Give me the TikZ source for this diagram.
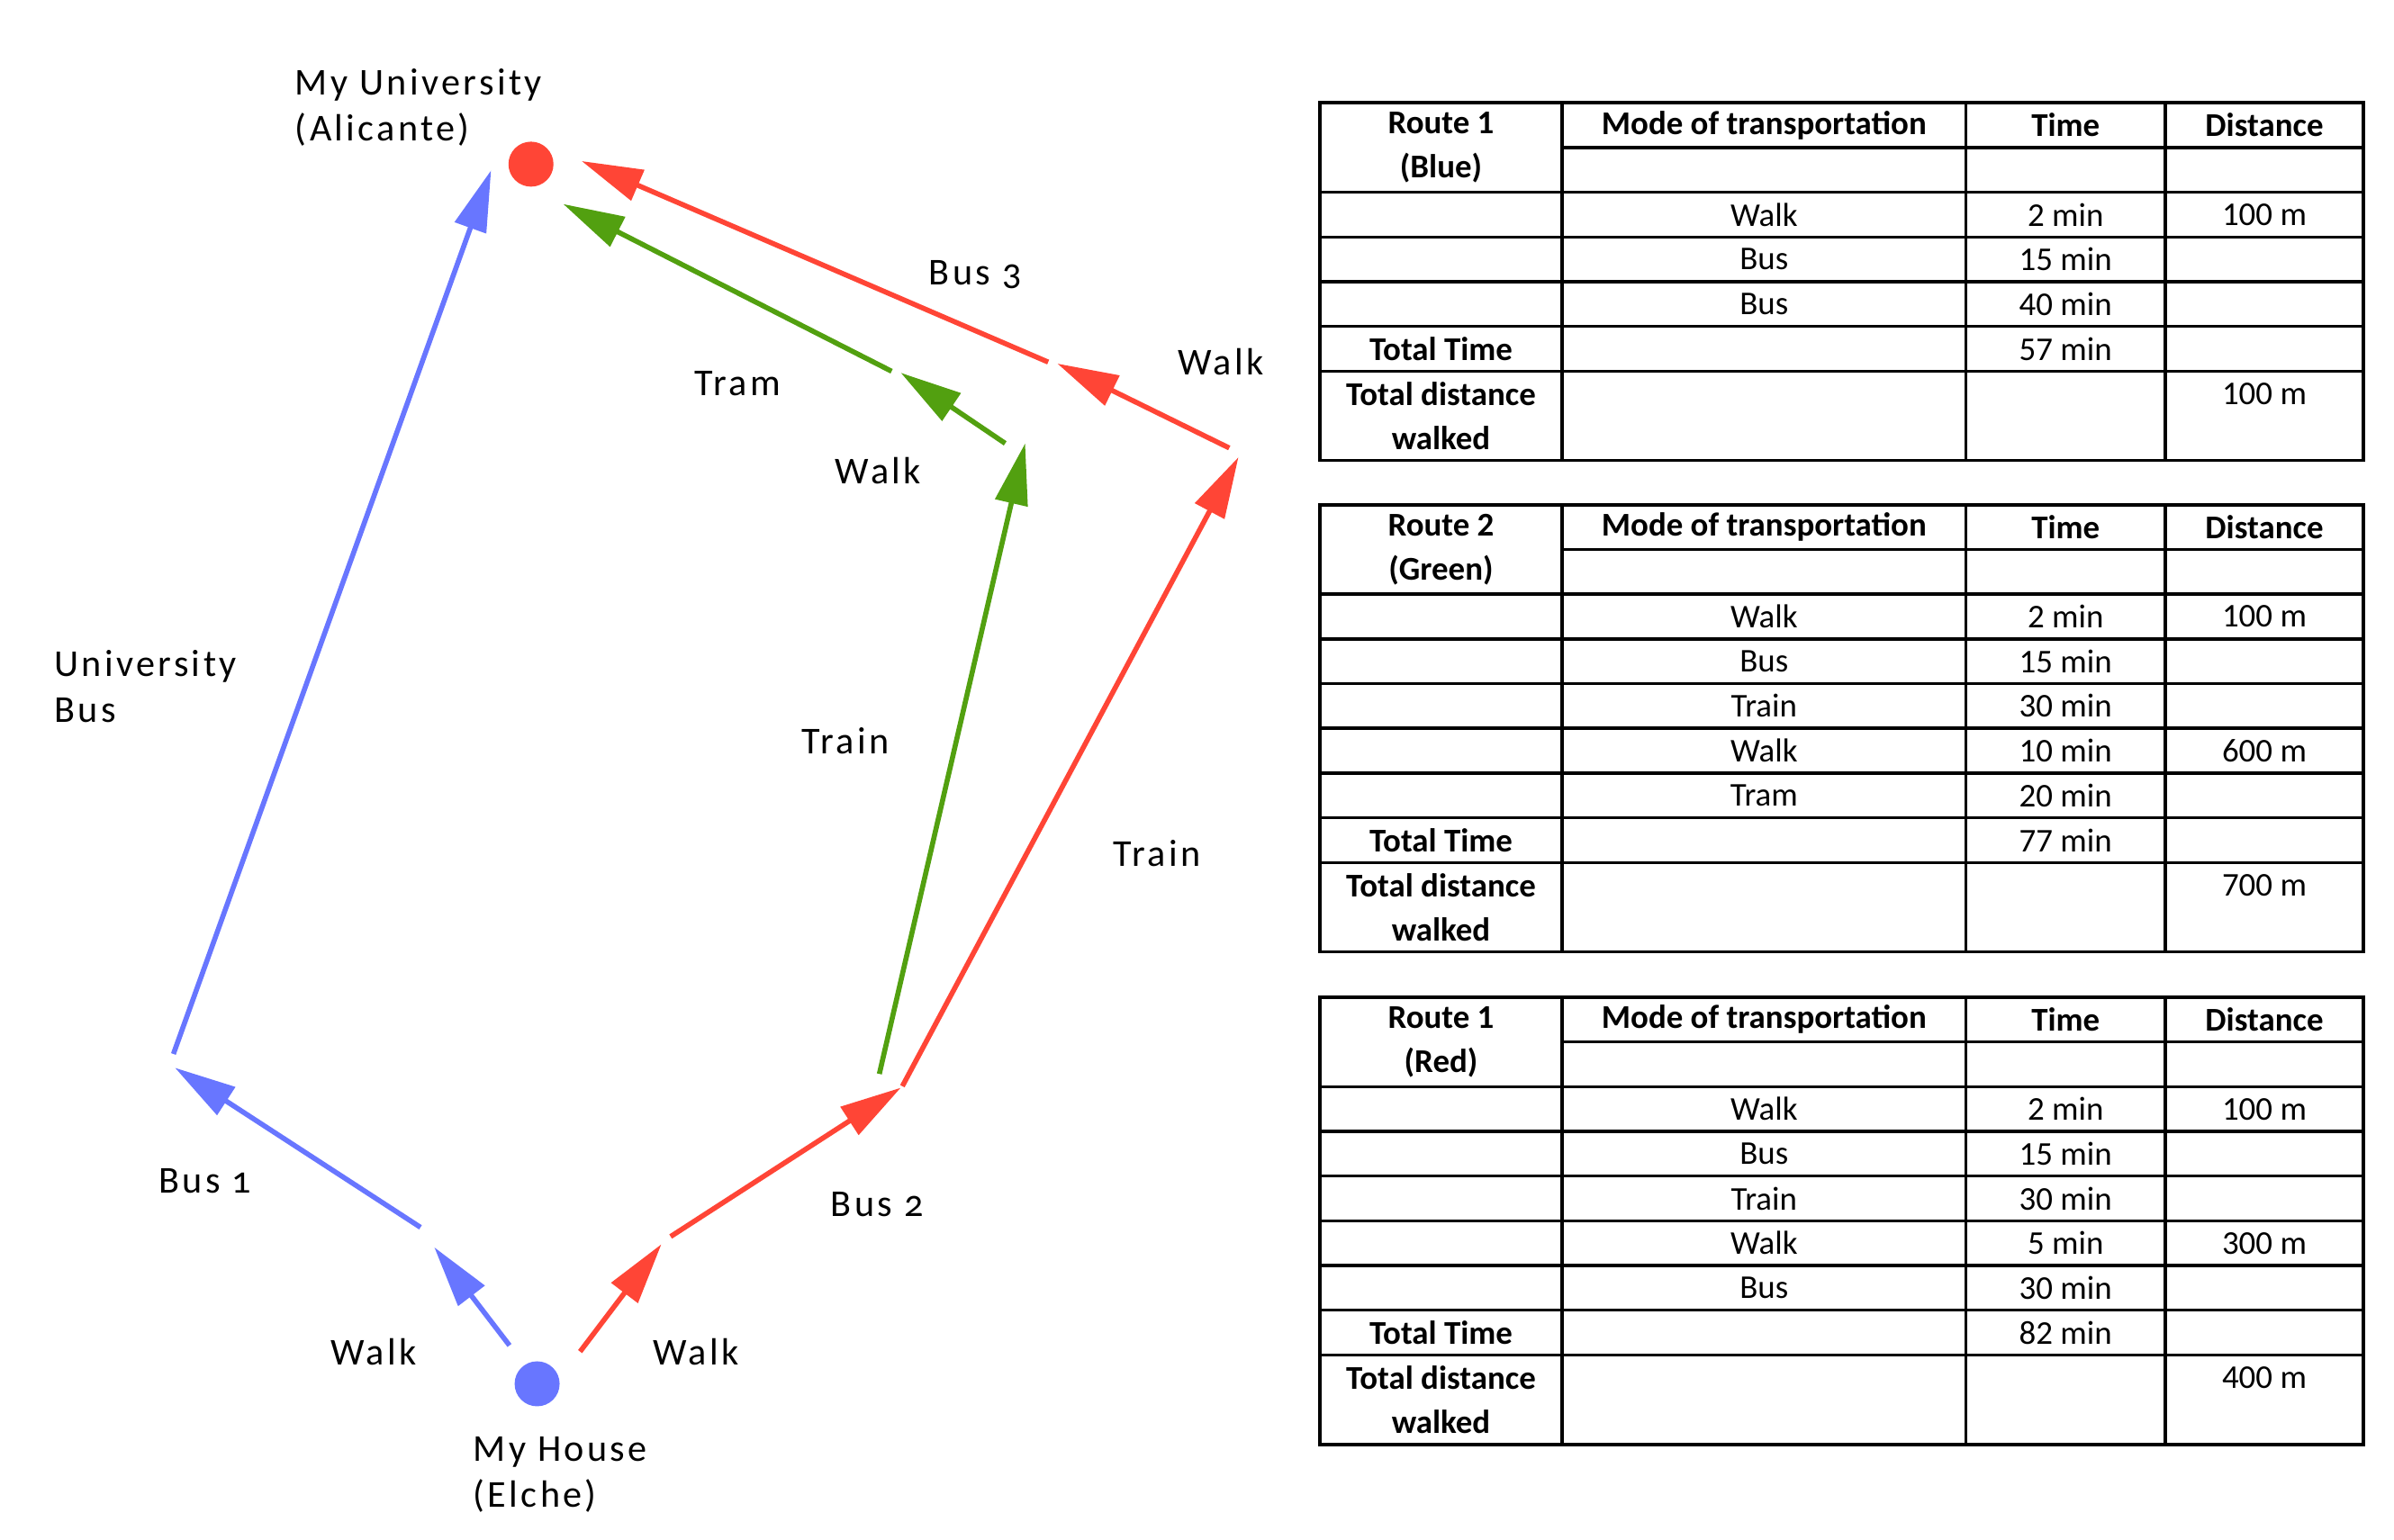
\documentclass[tikz,border=0pt]{standalone}
\usepackage{fontspec}
\setmainfont{Carlito}
\newfontfamily\lblfont{Carlito}[LetterSpace=8,Numbers=OldStyle]
\usetikzlibrary{arrows.meta}

\definecolor{routeblue}{RGB}{104,118,255}
\definecolor{routered}{RGB}{255,69,54}
\definecolor{routegreen}{RGB}{82,160,16}

\tikzset{
  route/.style={line width=1.6pt, -{Triangle[length=6.8mm, width=3.6mm]}},
  place/.style={circle, inner sep=0pt, minimum size=5mm},
  lbl/.style={font=\lblfont\fontsize{12}{14.5}\selectfont, anchor=west, align=left, inner sep=0pt},
  grid/.style={line width=1pt},
  cell/.style={font=\fontsize{10.5}{14}\selectfont, inner sep=0pt},
  hcell/.style={font=\fontsize{10.5}{14}\selectfont\bfseries, inner sep=0pt, align=center},
}

% top y, rows, title, mode/time/distance rows, total time, distance walked
\newcommand{\routetable}[6]{%
  \pgfmathsetmacro{\tb}{#1+29.15*#2}
  \pgfmathtruncatemacro{\tl}{#2-2}
  \pgfmathtruncatemacro{\tt}{#2-3}
  \draw[grid] (860,#1) rectangle (1540,\tb);
  \draw[grid] (1018,#1+29.15) -- (1540,#1+29.15);
  \foreach \k in {2,...,\tl} \draw[grid] (860,#1+29.15*\k) -- (1540,#1+29.15*\k);
  \foreach \x in {1018,1281,1411} \draw[grid] (\x,#1) -- (\x,\tb);
  \node[hcell] (title#1) at (939,#1+29.15) {#3};
  \node[hcell] (mode#1) at (1149.5,#1+14.6) {Mode of transportation};
  \node[hcell] (time#1) at (1346,#1+14.6) {Time};
  \node[hcell] (dist#1) at (1475.5,#1+14.6) {Distance};
  \foreach \m/\t/\d [count=\i from 2] in {#4} {
    \node[cell] (m#1-\i) at (1149.5,#1+29.15*\i+14.6) {\m};
    \node[cell] (t#1-\i) at (1346,#1+29.15*\i+14.6) {\t};
    \node[cell] (d#1-\i) at (1475.5,#1+29.15*\i+14.6) {\d};
  }
  \node[hcell] (tot#1) at (939,#1+29.15*\tt+14.6) {Total Time};
  \node[cell] (totv#1) at (1346,#1+29.15*\tt+14.6) {#5};
  \node[hcell] (walk#1) at (939,#1+29.15*\tl+29.15) {Total distance\\walked};
  \node[cell] (walkv#1) at (1475.5,#1+29.15*\tl+14.6) {#6};
}

\begin{document}
\begin{tikzpicture}[x=0.17045mm, y=-0.17045mm]
  \useasboundingbox (0,0) rectangle (1560,1003.8);

  % places
  \node[place, fill=routered] (uni) at (346,107) {};
  \node[place, fill=routeblue] (house) at (350,902) {};
  \node[lbl] (unilbl) at (192,70) {My University\\(Alicante)};
  \node[lbl] (houselbl) at (308,961) {My House\\(Elche)};

  % blue route
  \coordinate (b1) at (332,877);
  \coordinate (b2) at (283,813);
  \coordinate (b3) at (274,800);
  \coordinate (b4) at (114,696);
  \coordinate (b5) at (113,687);
  \coordinate (b6) at (320,111);
  \draw[route, routeblue] (b1) -- (b2);
  \draw[route, routeblue] (b3) -- (b4);
  \draw[route, routeblue] (b5) -- (b6);

  % red route
  \coordinate (r1) at (378,881);
  \coordinate (r2) at (431,811);
  \coordinate (r3) at (437,806);
  \coordinate (r4) at (587,709);
  \coordinate (r5) at (588,708);
  \coordinate (r6) at (807,298);
  \coordinate (r7) at (801,292);
  \coordinate (r8) at (689,237);
  \coordinate (r9) at (683,236);
  \coordinate (r10) at (379,105);
  \draw[route, routered] (r1) -- (r2);
  \draw[route, routered] (r3) -- (r4);
  \draw[route, routered] (r5) -- (r6);
  \draw[route, routered] (r7) -- (r8);
  \draw[route, routered] (r9) -- (r10);

  % green route
  \coordinate (g1) at (573,700);
  \coordinate (g2) at (668,289);
  \coordinate (g3) at (655,289);
  \coordinate (g4) at (587,243);
  \coordinate (g5) at (581,242);
  \coordinate (g6) at (367,133);
  \draw[route, routegreen] (g1) -- (g2);
  \draw[route, routegreen] (g3) -- (g4);
  \draw[route, routegreen] (g5) -- (g6);

  % route labels
  \node[lbl] (ubus) at (35,447.5) {University\\Bus};
  \node[lbl] (bus1) at (103,770) {Bus 1};
  \node[lbl] (bwalk) at (215,881) {Walk};
  \node[lbl] (rwalk) at (425,881) {Walk};
  \node[lbl] (bus2) at (541,785) {Bus 2};
  \node[lbl] (gtrain) at (522,483) {Train};
  \node[lbl] (rtrain) at (725,556) {Train};
  \node[lbl] (gwalk) at (544,307) {Walk};
  \node[lbl] (tram) at (452,250) {Tram};
  \node[lbl] (bus3) at (605,179) {Bus 3};
  \node[lbl] (rwalk2) at (767,236) {Walk};

  % tables
  \routetable{67}{8}{Route 1\\(Blue)}{Walk/2 min/100 m, Bus/15 min/{}, Bus/40 min/{}}{57 min}{100 m}
  \routetable{329}{10}{Route 2\\(Green)}{Walk/2 min/100 m, Bus/15 min/{}, Train/30 min/{}, Walk/10 min/600 m, Tram/20 min/{}}{77 min}{700 m}
  \routetable{650}{10}{Route 1\\(Red)}{Walk/2 min/100 m, Bus/15 min/{}, Train/30 min/{}, Walk/5 min/300 m, Bus/30 min/{}}{82 min}{400 m}
\end{tikzpicture}
\end{document}
